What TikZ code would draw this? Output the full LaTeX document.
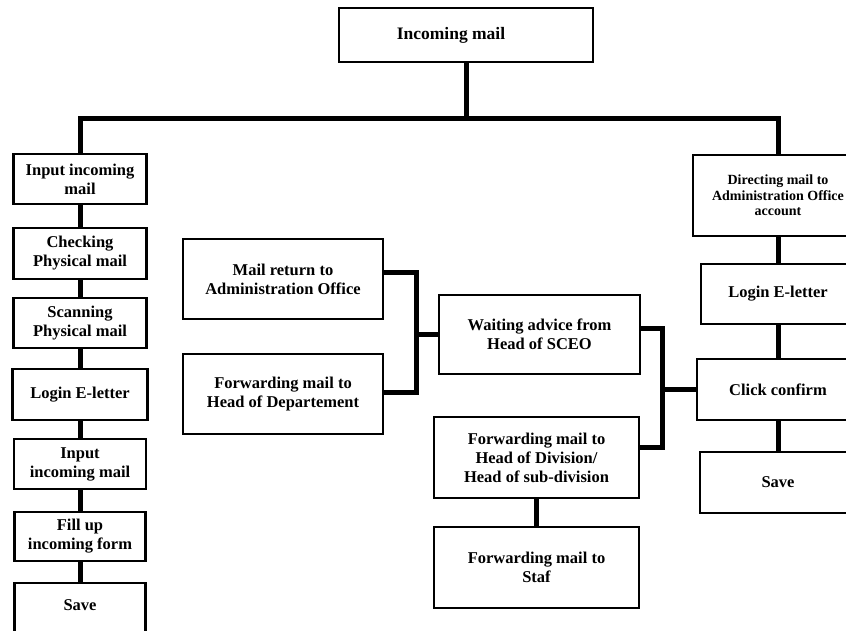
\documentclass[tikz,border=0pt]{standalone}
\usepackage{fontspec}
\setmainfont{Liberation Serif}
\begin{document}
\begin{tikzpicture}[x=1pt,y=-1pt,
  box/.style={draw, line width=2.2pt, align=center, inner sep=0pt, fill=white,
    font=\bfseries\fontsize{16.5}{19}\selectfont},
  small/.style={font=\bfseries\fontsize{14}{15.5}\selectfont},
  conn/.style={line width=5pt}]
\useasboundingbox (0,0) rectangle (846,630);
\fill[white] (0,0) rectangle (846,630);
\clip (0,0) rectangle (846,630);

% top
\node[box, minimum width=254pt, minimum height=54pt, font=\bfseries\fontsize{17.5}{20}\selectfont] (top) at (466,35) {\hspace*{-30pt}Incoming mail};

% left column
\node[box, minimum width=133pt, minimum height=50pt] (l1) at (80,179) {Input incoming\\mail};
\node[box, minimum width=133pt, minimum height=51pt] (l2) at (80,253.5) {Checking\\Physical mail};
\node[box, minimum width=133pt, minimum height=50pt] (l3) at (80,323) {Scanning\\Physical mail};
\node[box, minimum width=135pt, minimum height=51pt] (l4) at (80,394.5) {Login E-letter};
\node[box, minimum width=132pt, minimum height=50pt] (l5) at (80,464) {Input\\incoming mail};
\node[box, minimum width=131pt, minimum height=49pt] (l6) at (80,536.5) {Fill up\\incoming form};
\node[box, minimum width=131pt, minimum height=80pt] (l7) at (80,623) {\raisebox{36pt}{Save}};

% middle
\node[box, minimum width=200pt, minimum height=80pt] (m1) at (283,279) {Mail return to\\Administration Office};
\node[box, minimum width=200pt, minimum height=80pt] (m2) at (283,394) {Forwarding mail to\\Head of Departement};
\node[box, minimum width=201pt, minimum height=79pt] (w) at (539.5,334.5) {Waiting advice from\\Head of SCEO};
\node[box, minimum width=205pt, minimum height=81pt] (fd) at (536.5,457.5) {Forwarding mail to\\Head of Division/\\Head of sub-division};
\node[box, minimum width=205pt, minimum height=81pt] (staf) at (536.5,567.5) {Forwarding mail to\\Staf};

% right column
\node[box, small, minimum width=170pt, minimum height=81pt] (r1) at (778,195.5) {Directing mail to\\Administration Office\\account};
\node[box, minimum width=154pt, minimum height=60pt] (r2) at (778,294) {Login E-letter};
\node[box, minimum width=162pt, minimum height=61pt] (cc) at (778,389.5) {Click confirm};
\node[box, minimum width=156pt, minimum height=61pt] (r4) at (778,482.5) {Save};

% connectors
\coordinate (hub) at (466,118);
\draw[conn] (top.south) -- (hub);
\draw[conn] (l1.north) -- (l1.north |- hub) -- (r1.north |- hub) -- (r1.north);

\draw[conn] (l1) -- (l2);
\draw[conn] (l2) -- (l3);
\draw[conn] (l3) -- (l4);
\draw[conn] (l4) -- (l5);
\draw[conn] (l5) -- (l6);
\draw[conn] (l6) -- (l7);

\draw[conn] ([yshift=7pt]m1.east) -- ++(32,0) coordinate (mj) |- ([yshift=2pt]m2.east);
\draw[conn] (w.west) -- (w.west -| mj);

\draw[conn] ([yshift=6.5pt]w.east) -- ++(21,0) coordinate (rj) |- ([yshift=10pt]fd.east);
\draw[conn] (cc.west) -- (cc.west -| rj);
\draw[conn] (fd) -- (staf);

\draw[conn] (r1) -- (r2);
\draw[conn] (r2) -- (cc);
\draw[conn] (cc) -- (r4);
\end{tikzpicture}
\end{document}
